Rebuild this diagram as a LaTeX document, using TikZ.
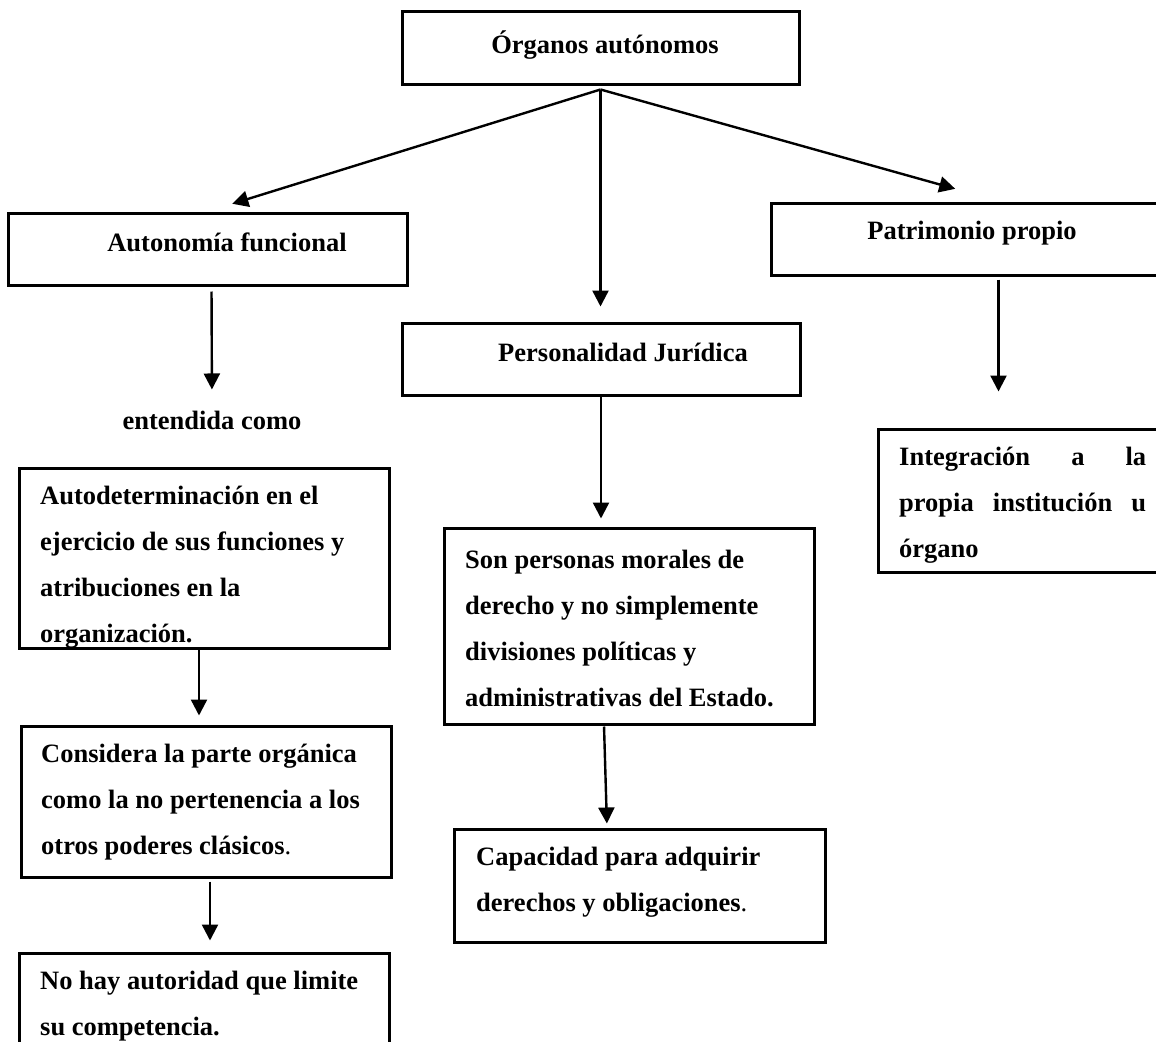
\documentclass[tikz,border=0pt]{standalone}
\usepackage{fontspec}
\setmainfont{Liberation Serif}
\usetikzlibrary{arrows.meta}

\begin{document}
\begin{tikzpicture}[x=1pt,y=-1pt,
		caja/.style={draw, line width=3pt, inner sep=0pt},
		txt/.style={font=\fontsize{26.5}{46}\selectfont\bfseries, inner sep=0pt},
		bloque/.style={txt, anchor=west, align=left},
		flecha/.style={line width=2.4pt, -{Triangle[width=16pt,length=16pt]}}]
		\path[use as bounding box, clip] (0,0) rectangle (1156,1041);

		\node[caja, minimum width=397pt, minimum height=72pt] (organos) at (600.5,48) {};
		\node[caja, minimum width=399pt, minimum height=72pt] (autonomia) at (207.5,249) {};
		\node[caja, minimum width=399pt, minimum height=72pt] (patrimonio) at (970.5,239) {};
		\node[caja, minimum width=398pt, minimum height=72pt] (personalidad) at (601,359) {};
		\node[caja, minimum width=370pt, minimum height=180pt] (autodet) at (204,558) {};
		\node[caja, minimum width=370pt, minimum height=196pt] (personas) at (629,626) {};
		\node[caja, minimum width=292pt, minimum height=143pt] (integracion) at (1024,500.5) {};
		\node[caja, minimum width=370pt, minimum height=151pt] (considera) at (206,801.5) {};
		\node[caja, minimum width=370pt, minimum height=136pt] (nohay) at (204,1021) {};
		\node[caja, minimum width=371pt, minimum height=113pt] (capacidad) at (639.5,885.5) {};

		\node[txt] (organosT) at (605,45) {Órganos autónomos};
		\node[txt] (autonomiaT) at (227,242) {Autonomía funcional};
		\node[txt] (patrimonioT) at (972,233) {Patrimonio propio};
		\node[txt] (personalidadT) at (623,352) {Personalidad Jurídica};
		\node[txt] (entendida) at (212,420) {entendida como};
		\node[bloque] (autodetT) at (40,567) {Autodeterminación en el\\ ejercicio de sus funciones y\\ atribuciones en la\\ organización.};
		\node[bloque] (personasT) at (465,628) {Son personas morales de\\ derecho y no simplemente\\ divisiones políticas y\\ administrativas del Estado.};
		\node[bloque] (integracionT) at (899,505) {\makebox[247pt]{Integración\hfill a\hfill la}\\ \makebox[247pt]{propia\hfill institución\hfill u}\\ órgano};
		\node[bloque] (consideraT) at (41,802) {Considera la parte orgánica\\ como la no pertenencia a los\\ otros poderes clásicos\textmd{.}};
		\node[bloque] (nohayT) at (40,1006) {No hay autoridad que limite\\ su competencia.};
		\node[bloque] (capacidadT) at (476,882) {Capacidad para adquirir\\ derechos y obligaciones\textmd{.}};

		\coordinate (vertice) at ([yshift=-4pt]organos.south);
		\draw[flecha, shorten >=26pt] (vertice) -- (autonomia.north);
		\draw[flecha, shorten >=47pt] (vertice) -- ([xshift=30pt]patrimonio.north);
		\draw[flecha, shorten >=15pt] (vertice) -- (vertice |- personalidad.north);
		\draw[flecha, shorten <=5pt, shorten >=21pt] ([xshift=4pt]autonomia.south) -- (entendida.north);
		\draw[flecha, shorten >=9pt] ([xshift=-5pt]autodet.south) -- ([xshift=-7pt]considera.north);
		\draw[flecha, shorten <=3pt, shorten >=11pt] ([xshift=4pt]considera.south) -- ([xshift=6pt]nohay.north);
		\draw[flecha, shorten >=8pt] (personalidad.south) -- (personalidad.south |- personas.north);
		\draw[flecha, shorten <=1pt, shorten >=4pt] ([xshift=-25pt]personas.south) -- ([xshift=-32.5pt]capacidad.north);
		\draw[flecha, shorten <=3pt, shorten >=36pt] ([xshift=28pt]patrimonio.south) -- ([xshift=28pt]patrimonio.south |- integracion.north);
	\end{tikzpicture}
\end{document}
